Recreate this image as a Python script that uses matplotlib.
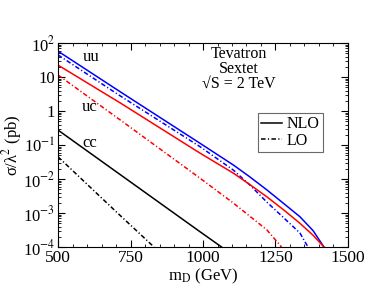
import matplotlib
matplotlib.use("Agg")
import matplotlib.pyplot as plt
from matplotlib.ticker import FixedLocator, MultipleLocator, LogLocator, NullFormatter

plt.rcParams["font.family"] = "Liberation Serif"
plt.rcParams["mathtext.fontset"] = "stix"

# uu : sextet with two up quarks
m_uu_nlo = [500, 714, 990, 1105, 1160, 1220, 1280, 1334, 1380, 1417]
s_uu_nlo = [57.5, 3.7, 0.112, 0.0257, 0.0118, 4.8e-3, 1.85e-3, 7.8e-4, 3.0e-4, 1e-4]
m_uu_lo = [500, 714, 990, 1105, 1162, 1220, 1280, 1334, 1362]
s_uu_lo = [44.7, 2.8, 0.089, 0.0182, 6.6e-3, 2.1e-3, 7.0e-4, 2.6e-4, 1e-4]

# uc
m_uc_nlo = [500, 714, 990, 1105, 1160, 1220, 1280, 1334, 1380, 1417]
s_uc_nlo = [22.4, 1.74, 0.0575, 0.0148, 7.0e-3, 3.0e-3, 1.2e-3, 5.0e-4, 2.2e-4, 1e-4]
m_uc_lo = [500, 714, 944, 990, 1105, 1220, 1271]
s_uc_lo = [11.5, 0.55, 0.0204, 0.0105, 1.95e-3, 3.2e-4, 1e-4]

# cc
m_cc_nlo = [500, 990, 1064]
s_cc_nlo = [0.275, 2.8e-4, 1e-4]
m_cc_lo = [500, 700, 831]
s_cc_lo = [0.045, 1.1e-3, 1e-4]

xticks = [500, 750, 1000, 1250, 1500]
yticks = [1e-4, 1e-3, 1e-2, 1e-1, 1, 10, 100]
ytick_labels = ["10$^{-4}$", "10$^{-3}$", "10$^{-2}$", "10$^{-1}$", "1", "10", "10$^{2}$"]

dd = (3, 1.5, 0.8, 1.5)

fig = plt.figure(figsize=(3.76, 2.91), dpi=100)
ax = fig.add_axes([0.1543, 0.1512, 0.7712, 0.701])

ax.semilogy(m_uu_nlo, s_uu_nlo, color="blue", lw=1.1)
ax.semilogy(m_uu_lo, s_uu_lo, color="blue", lw=1.1, dashes=dd)
ax.semilogy(m_uc_nlo, s_uc_nlo, color="red", lw=1.1)
ax.semilogy(m_uc_lo, s_uc_lo, color="red", lw=1.1, dashes=dd)
ax.semilogy(m_cc_nlo, s_cc_nlo, color="black", lw=1.1, label="NLO")
ax.semilogy(m_cc_lo, s_cc_lo, color="black", lw=1.1, dashes=dd, label="LO")

ax.set_xlim(500, 1500)
ax.set_ylim(1e-4, 100)
ax.xaxis.set_major_locator(FixedLocator(xticks))
ax.xaxis.set_minor_locator(MultipleLocator(50))
ax.yaxis.set_major_locator(FixedLocator(yticks))
ax.set_yticklabels(ytick_labels)
ax.yaxis.set_minor_locator(LogLocator(base=10, subs=range(2, 10), numticks=20))
ax.yaxis.set_minor_formatter(NullFormatter())
ax.tick_params(which="both", direction="in", top=True, right=True, labelsize=12.5, pad=2.5)
ax.tick_params(axis="y", labelsize=12, pad=2)
ax.tick_params(which="major", length=5)
ax.tick_params(which="minor", length=2.5)

ax.set_xlabel("m$_{\\rm D}$ (GeV)", fontsize=12, labelpad=0)
ax.set_ylabel("σ/λ$^{2}$ (pb)", fontsize=12)
ax.yaxis.set_label_coords(-0.118, 0.5)

ax.text(0.086, 0.931, "uu", transform=ax.transAxes, fontsize=12, va="center")
ax.text(0.083, 0.686, "uc", transform=ax.transAxes, fontsize=12, va="center")
ax.text(0.083, 0.51, "cc", transform=ax.transAxes, fontsize=12, va="center")

ax.text(0.624, 0.873, "Tevatron\nSextet\n√S = 2 TeV", transform=ax.transAxes, fontsize=11.5,
        ha="center", va="center", multialignment="center", linespacing=0.88)

leg = ax.legend(loc="upper left", bbox_to_anchor=(0.69, 0.657), borderaxespad=0,
                fancybox=False, edgecolor="#444444", fontsize=11.5, handlelength=1.3,
                handletextpad=0.3, borderpad=0.2, labelspacing=0.05)
leg.get_frame().set_linewidth(0.8)

fig.savefig("out.png", dpi=100)
